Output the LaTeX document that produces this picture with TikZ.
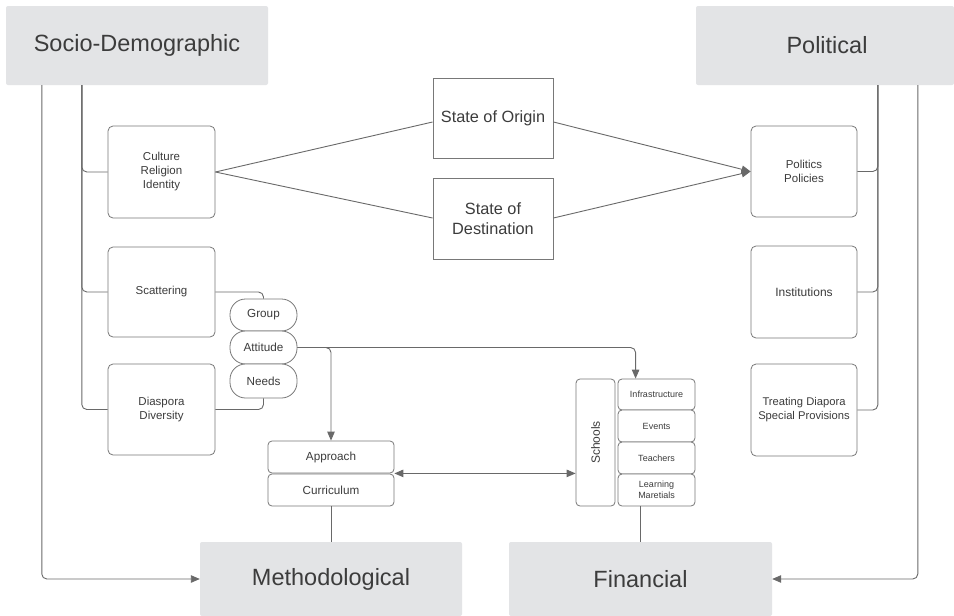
\documentclass[tikz,border=0pt]{standalone}
\usepackage{fontspec}
\setmainfont{Liberation Sans}
\usetikzlibrary{arrows.meta,calc}
\definecolor{catgray}{RGB}{227,228,230}
\definecolor{linegray}{RGB}{105,105,105}
\definecolor{boxgray}{RGB}{120,120,120}
\definecolor{txtgray}{RGB}{60,60,60}
\tikzset{
  cat/.style={fill=catgray, rounded corners=2pt, text=txtgray, inner sep=0pt,
    font=\fontsize{23.5}{28}\selectfont},
  subbox/.style={draw=boxgray, line width=0.8pt, fill=white, rounded corners=5pt,
    text=txtgray, inner sep=0pt, align=center, minimum width=107pt,
    font=\fontsize{11.5}{14}\selectfont},
  statebox/.style={draw=boxgray, line width=0.9pt, fill=white, text=txtgray,
    inner sep=0pt, align=center, minimum width=120pt,
    font=\fontsize{16.3}{20}\selectfont},
  pill/.style={draw=boxgray, line width=0.8pt, fill=white, rounded corners=15.5pt,
    text=txtgray, inner sep=0pt, minimum width=67pt,
    font=\fontsize{11.7}{14}\selectfont},
  methbox/.style={draw=boxgray, line width=0.8pt, fill=white, rounded corners=4pt,
    text=txtgray, inner sep=0pt, minimum width=126pt, minimum height=32pt,
    font=\fontsize{11.7}{14}\selectfont},
  schbox/.style={draw=boxgray, line width=0.8pt, fill=white, rounded corners=4pt,
    text=txtgray, inner sep=0pt, align=center, minimum width=77pt,
    font=\fontsize{9}{10.7}\selectfont},
  conn/.style={draw=linegray, line width=0.9pt, rounded corners=5pt},
  tip/.style={-{Triangle[length=9pt,width=7.5pt]}},
  tips/.style={{Triangle[length=9pt,width=7.5pt]}-{Triangle[length=9pt,width=7.5pt]}},
}
\begin{document}
\begin{tikzpicture}[x=1pt,y=-1pt]
\useasboundingbox[fill=white] (0,0) rectangle (954,616);

% category boxes
\node[cat, minimum width=262pt, minimum height=79pt] (socio) at (137,45.5) {Socio-Demographic};
\node[cat, minimum width=258pt, minimum height=79pt] (polit) at (825,45.5) {\hspace*{4pt}Political};
\node[cat, minimum width=262pt, minimum height=74pt] (meth) at (331,579) {Methodological};
\node[cat, minimum width=263pt, minimum height=74pt] (fin) at (640.5,579) {Financial};

% left sub boxes
\node[subbox, minimum height=92pt] (cult) at (161.5,172) {Culture\\Religion\\Identity};
\node[subbox, minimum height=90pt] (scat) at (161.5,292) {\raisebox{0pt}[0pt][0pt]{}Scattering};
\node[subbox, minimum height=91pt] (diasp) at (161.5,409.5) {Diaspora\\Diversity};

% right sub boxes
\node[subbox, minimum width=106pt, minimum height=91pt] (pol) at (804,171.5) {Politics\\Policies};
\node[subbox, minimum width=106pt, minimum height=92pt, font=\fontsize{12}{14}\selectfont] (inst) at (804,292) {Institutions};
\node[subbox, minimum width=106pt, minimum height=92pt, font=\fontsize{11.2}{14}\selectfont] (treat) at (804,410) {Treating Diapora\\Special Provisions};

% states
\node[statebox, minimum height=80pt] (orig) at (493,118) {State of Origin};
\node[statebox, minimum height=81pt] (dest) at (493,218.5) {State of\\Destination};

% pills
\node[pill, minimum height=32pt] (group) at (263.5,315) {Group};
\node[pill, minimum height=33pt] (attit) at (263.5,347.5) {Attitude};
\node[pill, minimum height=34pt] (needs) at (263.5,381) {Needs};

% approach / curriculum
\node[methbox] (appr) at (331,457) {Approach};
\node[methbox] (curr) at (331,490) {Curriculum};

% schools
\node[draw=boxgray, line width=0.8pt, fill=white, rounded corners=4pt, inner sep=0pt,
      minimum width=39pt, minimum height=127pt] (school) at (595.5,442.5) {};
\node[text=txtgray, rotate=90, font=\fontsize{12}{14}\selectfont, inner sep=0pt] (schooltxt) at (school.center) {Schools};
\node[schbox, minimum height=31pt] (infra) at (656.5,394.5) {Infrastructure};
\node[schbox, minimum height=32pt] (events) at (656.5,426) {Events};
\node[schbox, minimum height=32pt] (teach) at (656.5,458) {Teachers};
\node[schbox, minimum height=32pt] (learn) at (656.5,490) {Learning\\Maretials};

% coordinates
\coordinate (sA) at ($(socio.south west)+(36,0)$);
\coordinate (sB) at ($(socio.south west)+(76,0)$);
\coordinate (pA) at ($(polit.south west)+(222,0)$);
\coordinate (pB) at ($(polit.south west)+(182,0)$);
\coordinate (infraIn) at ($(infra.north west)+(18,0)$);
\coordinate (finTop) at (fin.north |- learn.south);

% socio connectors
\draw[conn, tip] (sA) |- (meth.west);
\draw[conn] (sB) |- (cult.west);
\draw[conn] (sB) |- (scat.west);
\draw[conn] (sB) |- (diasp.west);

% political connectors
\draw[conn, tip] (pA) |- (fin.east);
\draw[conn] (pB) |- (pol.east);
\draw[conn] (pB) |- (inst.east);
\draw[conn] (pB) |- (treat.east);

% states
\draw[conn] (cult.east) -- ($(orig.west)+(0,4)$);
\draw[conn] (cult.east) -- ($(dest.west)+(0,-0.5)$);
\draw[conn, tip] ($(orig.east)+(0,4)$) -- (pol.west);
\draw[conn, tip] ($(dest.east)+(0,-0.5)$) -- (pol.west);

% pills
\draw[conn] (scat.east) -| (group.north);
\draw[conn] (diasp.east) -| (needs.south);
\draw[conn, tip] (attit.east) -| (infraIn);
\draw[conn, tip] (attit.east) -| (appr.north);

% bottom
\draw[conn, tips] (appr.south east) -- (appr.south east -| school.west);
\draw[conn] (curr.south) -- (meth.north);
\draw[conn] (finTop) -- (fin.north);
\end{tikzpicture}
\end{document}
